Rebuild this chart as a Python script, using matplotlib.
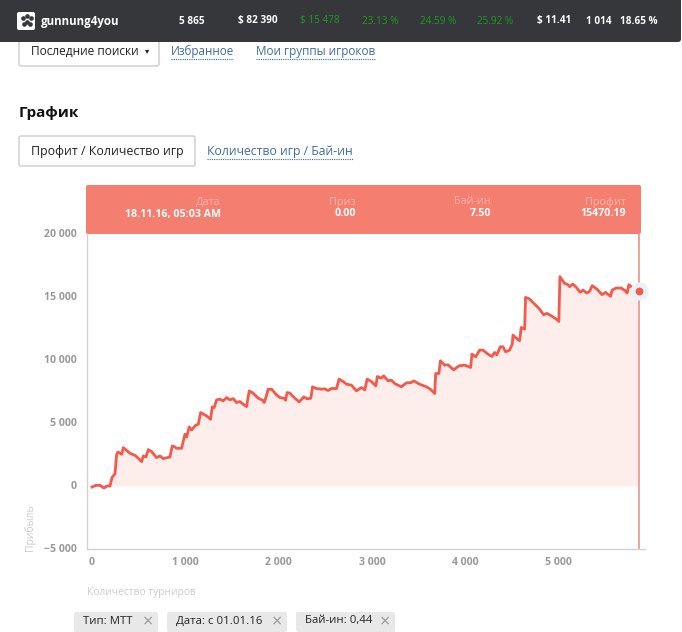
import matplotlib
matplotlib.use("Agg")
import matplotlib.pyplot as plt
from matplotlib.patches import FancyBboxPatch
from matplotlib.transforms import ScaledTranslation

plt.rcParams['font.family'] = ['Open Sans', 'DejaVu Sans']

tournaments = [0,43,86,128,157,193,214,246,264,278,318,335,407,460,496,532,550,578,603,639,692,728,764,835,860,889,906,960,996,1014,1042,1067,1110,1139,1164,1228,1271,1288,1310,1335,1370,1406,1442,1478,1513,1549,1585,1620,1656,1685,1727,1781,1827,1845,1863,1888,1924,1977,2013,2056,2074,2091,2120,2174,2220,2270,2306,2345,2363,2405,2459,2495,2530,2566,2620,2648,2691,2727,2780,2834,2887,2923,2948,2994,3041,3058,3084,
 3101,3126,3172,3208,3244,3315,3369,3422,3447,3511,3583,3626,3672,3683,3718,3733,3779,3815,3875,3933,3993,4057,4072,4111,4154,4190,4243,4286,4314,4339,4375,4404,4432,4475,4504,4511,4546,4582,4600,4636,4646,4689,4743,4796,4839,4875,4921,4975,5003,5014,5064,5100,5117,5153,5189,5232,5260,5303,5332,5360,5410,5467,5503,5556,5574,5617,5671,5713,5735,5753,5778,5813,5865]
profit = [-81,52,52,-160,-2,-2,661,979,2516,2701,2516,3046,2595,2436,2198,1933,2384,2304,2887,2728,2251,2384,2172,2304,3179,3099,2993,2993,4106,3894,4689,4450,4821,4901,5828,5563,5298,6279,6226,6835,6888,6756,7021,6835,6941,6623,6703,6491,6306,7551,7366,6968,6809,6623,7021,7683,7683,7233,7021,6968,6809,7418,7366,6968,6676,7074,6915,6968,7869,7737,7683,7710,7578,7737,7737,8479,8293,8081,8002,7551,7816,7630,8479,8293,7949,8691,8611,
 8558,8744,8346,8399,8134,7869,8187,8213,8346,8081,7869,7684,7339,8929,8929,9936,9591,9618,9220,9538,9591,9406,10466,10254,10784,10784,10466,10280,10598,10413,11049,11049,10651,10784,11261,11977,11738,11526,12586,12454,14971,14838,14441,14044,13593,13699,13513,13249,13063,16614,16084,15978,15819,16031,15766,15369,15554,15316,15448,15898,15633,15183,15369,15051,15554,15713,15713,15501,15316,15978,15819,15713,15470]

x_ticks = [0,1000,2000,3000,4000,5000]
x_tick_labels = ['0','1 000','2 000','3 000','4 000','5 000']
y_ticks = [-5000,0,5000,10000,15000,20000]
y_tick_labels = ['−5 000','0','5 000','10 000','15 000','20 000']
stat_labels = ['5 865','$ 82 390','$ 15 478','23.13 %','24.59 %','25.92 %','$ 11.41','1 014','18.65 %']
tooltip_titles = ['Дата','Приз','Бай-ин','Профит']
tooltip_values = ['18.11.16, 05:03 AM','0.00','7.50','15470.19']
filter_tags = ['Тип: МТТ','Дата: с 01.01.16','Бай-ин: 0,44']

W, H = 682, 632
fig = plt.figure(figsize=(W/100, H/100), dpi=100, facecolor='white')

# chart axes, placed by pixel box
L, R, T, B = 86.5, 645, 234, 549
ax = fig.add_axes([L/W, 1-B/H, (R-L)/W, (B-T)/H])
ax.set_xlim(-59, 5926)
ax.set_ylim(-5000, 20000)
LINE = '#f4594b'
ax.fill_between(tournaments, profit, 0, color='#feeeeb', lw=0, zorder=1)
ax.axvline(tournaments[-1], color='#f39a90', lw=1.3, zorder=2)
ax.plot(tournaments, profit, color=LINE, lw=2.0, solid_joinstyle='round', zorder=3)
ax.scatter(tournaments[-1], profit[-1], s=170, color='#e8f0fa', lw=0, clip_on=False, zorder=4)
ax.scatter(tournaments[-1], profit[-1], s=32, color=LINE, lw=0, clip_on=False, zorder=5)
for s in ['top', 'right']:
    ax.spines[s].set_visible(False)
for s in ['left', 'bottom']:
    ax.spines[s].set_color('#d2d2d2')
    ax.spines[s].set_linewidth(1)
ax.set_xticks(x_ticks, x_tick_labels)
ax.set_yticks(y_ticks, y_tick_labels)
ax.tick_params(axis='x', length=0, labelcolor='#999999', labelsize=7.6, pad=6)
ax.tick_params(axis='y', length=0, labelcolor='#999999', labelsize=7.6, pad=7)
for t in ax.get_xticklabels() + ax.get_yticklabels():
    t.set_fontweight('bold')
up = ScaledTranslation(0, 1/100, fig.dpi_scale_trans)
for t in ax.get_yticklabels():
    t.set_transform(t.get_transform() + up)

# page chrome in pixel coordinates
ui = fig.add_axes([0, 0, 1, 1], facecolor='none')
ui.set_xlim(0, W); ui.set_ylim(H, 0); ui.axis('off')

def box(x, y, w, h, fc, ec='none', r=2, lw=1, z=1):
    ui.add_patch(FancyBboxPatch((x+r, y+r), w-2*r, h-2*r, boxstyle=f'round,pad={r},rounding_size={r}',
                                fc=fc, ec=ec, lw=lw, zorder=z))

def link(x, y, w, s, size=8.8):
    ui.text(x, y, s, color='#3f6c9c', fontsize=size, va='center', ha='left')
    ui.plot([x, x+w], [y+8, y+8], color='#2d6ea8', lw=0.8, ls=(0, (1, 1)))

# top bar
box(-5, -6, 686, 48, '#35373a', r=3, z=3)
box(17, 12, 18, 18, 'white', r=2, z=4)
ui.scatter([23, 27, 31, 24, 30, 27], [18, 16, 18, 24, 24, 22], s=11, color='#35373a', lw=0, zorder=5)
ui.text(41, 21, 'gunnung4you', color='white', fontsize=8.3, fontweight='bold', va='center', zorder=5)
stat_right = [205, 278, 340, 398, 456, 513, 571, 612, 657]
stat_colors = ['white', 'white', '#1f9a1f', '#1f9a1f', '#1f9a1f', '#1f9a1f', 'white', 'white', 'white']
for xr, s, c in zip(stat_right, stat_labels, stat_colors):
    ui.text(xr, 21, s, color=c, fontsize=7.2, fontweight='bold' if c == 'white' else 'normal',
            ha='right', va='center', zorder=5)

# controls
box(19, 36, 140, 30, 'white', ec='#cccccc', r=2, z=1)
ui.text(31, 51, 'Последние поиски', color='#222222', fontsize=8.6, va='center', zorder=2)
ui.text(147, 52, '▾', color='#222222', fontsize=6, va='center', ha='center', zorder=2)
link(171, 51, 62, 'Избранное', 8.4)
link(256, 51, 119, 'Мои группы игроков', 8.5)
ui.text(19, 113, 'График', color='#111111', fontsize=11, fontweight='bold', va='center')
box(19, 136, 176, 30, 'white', ec='#cccccc', r=2)
ui.text(31, 151, 'Профит / Количество игр', color='#222222', fontsize=8.9, va='center')
link(207, 151, 146, 'Количество игр / Бай-ин')

# tooltip panel
box(86, 185, 555, 49, '#f47e70', r=2)
tip_right = [221, 356, 491, 626]
for xr, a, b in zip(tip_right, tooltip_titles, tooltip_values):
    ui.text(xr, 202, a, color='#fbb3aa', fontsize=7.8, ha='right', va='center')
    ui.text(xr, 214, b, color='white', fontsize=7.7, fontweight='bold', ha='right', va='center')

# axis titles
ui.text(30, 528, 'Прибыль', color='#cccccc', fontsize=7.5, rotation=90, ha='center', va='center')
ui.text(87, 592, 'Количество турниров', color='#cccccc', fontsize=7.4, ha='left', va='center')

# filter tags
tag_boxes = [(74, 84), (167, 120), (296, 99)]
for (x, w), s in zip(tag_boxes, filter_tags):
    box(x, 612, w, 20, '#e8e8e8', r=2)
    ui.text(x+9, 621, s, color='#222222', fontsize=8.2, va='center')
    ui.text(x+w-10, 622, '×', color='#999999', fontsize=13, ha='center', va='center')

fig.savefig('out.png', dpi=100)
